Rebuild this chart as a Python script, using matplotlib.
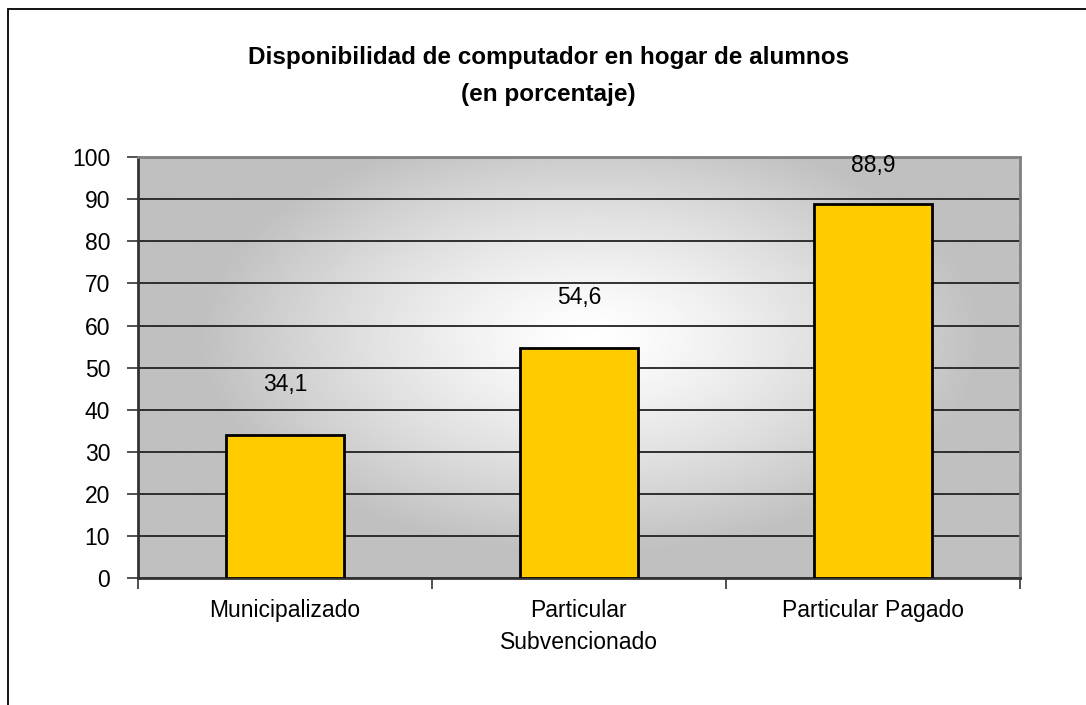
''' disponibilidad de computador en hogar de alumnos '''
import numpy as np
import matplotlib
matplotlib.use('Agg')
import matplotlib.pyplot as plt
from matplotlib.patches import Rectangle

# datos del grafico
categorias = ['Municipalizado', 'Particular\nSubvencionado', 'Particular Pagado']
porcentajes = [34.1, 54.6, 88.9]
y_ticks = list(range(0, 101, 10))
titulo = 'Disponibilidad de computador en hogar de alumnos\n(en porcentaje)'

plt.rcParams['font.family'] = ['Liberation Sans', 'DejaVu Sans']

fig = plt.figure(figsize=(10.86, 7.05), dpi=100)
ax = fig.add_axes([0.127, 0.180, 0.812, 0.597])

# borde del grafico (recortado abajo y a la derecha)
fig.patches.append(Rectangle((8 / 1086, -0.1), 1.2, 1.1 - 9 / 705,
                             transform=fig.transFigure, fill=False,
                             edgecolor='black', linewidth=1.3))

# fondo con degradado radial (eliptico)
ny, nx = 300, 600
xx, yy = np.meshgrid(np.linspace(0, 882, nx), np.linspace(0, 421, ny))
cx, cy = 453, 240
d = np.sqrt(((xx - cx) / 390) ** 2 + ((yy - cy) / 215) ** 2)
d = np.clip(d, 0, 1) ** 1.3
gris = 0.753
img = 1.0 - (1.0 - gris) * d
ax.imshow(img, cmap='gray', vmin=0, vmax=1, origin='lower',
          extent=[-0.5, 2.5, 0, 100], aspect='auto', zorder=0,
          interpolation='bilinear')

x = np.arange(len(categorias))
ax.bar(x, porcentajes, width=0.4, color='#FFCC00', edgecolor='black',
       linewidth=2, zorder=3)

for xi, v in zip(x, porcentajes):
    ax.text(xi, min(v + 12, 98), f'{v:.1f}'.replace('.', ','),
            ha='center', va='center', fontsize=16.5, color='black', zorder=4)

ax.set_xlim(-0.5, 2.5)
ax.set_ylim(0, 100)
ax.set_yticks(y_ticks)
ax.set_yticklabels([str(t) for t in y_ticks], fontsize=16.5)
ax.yaxis.grid(True, color='#222222', linewidth=1.3, zorder=1)
ax.set_axisbelow(True)

ax.set_xticks([-0.5, 0.5, 1.5, 2.5])
ax.set_xticklabels([])
ax.tick_params(axis='x', length=8, width=1.2, color='#333333')
ax.tick_params(axis='y', length=8, width=1.2, color='#333333', pad=12)
for xi, c in zip(x, categorias):
    ax.text(xi, -5, c, ha='center', va='top', fontsize=16.5,
            linespacing=1.5, transform=ax.transData)

for s in ['left', 'bottom']:
    ax.spines[s].set_color('#333333')
    ax.spines[s].set_linewidth(2)
for s in ['top', 'right']:
    ax.spines[s].set_color('#808080')
    ax.spines[s].set_linewidth(2)

fig.text(0.505, 0.935, titulo, ha='center', va='top', fontsize=17.5,
         fontweight='bold', linespacing=1.8)

plt.savefig('out.png', dpi=100)
